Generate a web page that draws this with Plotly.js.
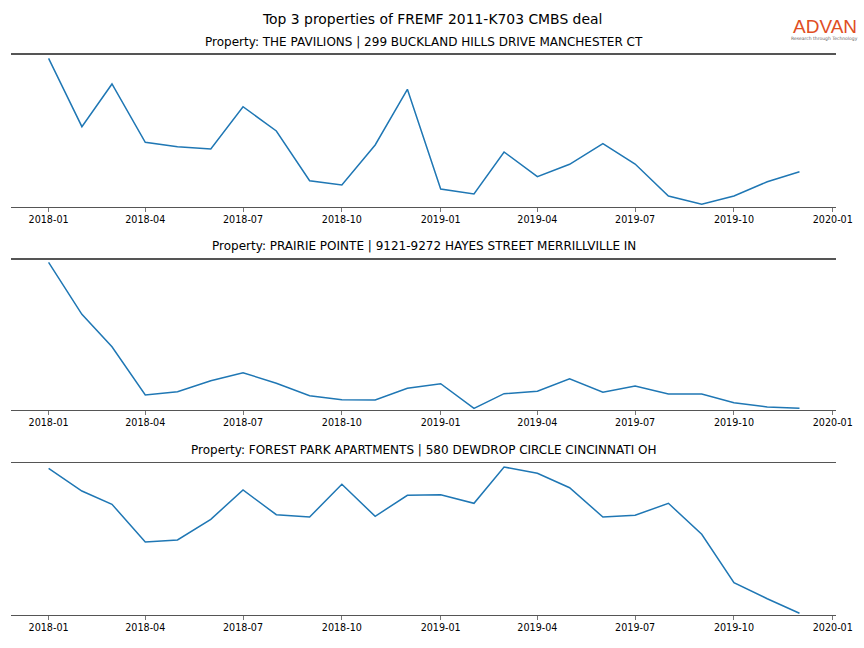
<!DOCTYPE html>
<html>
<head>
<meta charset="utf-8">
<script src="https://cdn.plot.ly/plotly-3.0.1.min.js"></script>
<style>html,body{margin:0;padding:0;background:#fff;}#chart{width:864px;height:648px;}</style>
</head>
<body>
<div id="chart"></div>
<script>
const months = ['2018-01-01','2018-02-01','2018-03-01','2018-04-01','2018-05-01','2018-06-01',
  '2018-07-01','2018-08-01','2018-09-01','2018-10-01','2018-11-01','2018-12-01',
  '2019-01-01','2019-02-01','2019-03-01','2019-04-01','2019-05-01','2019-06-01',
  '2019-07-01','2019-08-01','2019-09-01','2019-10-01','2019-11-01','2019-12-01'];

const pavilions = [148.4, 80, 122.7, 64.4, 60, 57.7, 100, 75.7, 26, 21.7, 61.7, 117.4,
  17.7, 12.7, 54.7, 30, 42.4, 63, 42.7, 10.7, 2.4, 10.7, 25, 35];
const prairie = [147.4, 95.4, 63, 14.7, 18, 29, 37, 26.4, 14, 10, 9.7, 21.4,
  26, 1.4, 16, 18.4, 31, 17.4, 23.7, 15.7, 15.7, 7, 2.7, 1.4];
const forest = [146.4, 123.7, 110.4, 72.7, 74.7, 95.4, 124.7, 100, 97.7, 130.4, 98.4, 119.4,
  120, 111.4, 147.7, 141.4, 127, 97.7, 99.4, 111.4, 80.4, 32, 16, 1.4];

const mainTitle = 'Top 3 properties of FREMF 2011-K703 CMBS deal';
const subTitles = [
  'Property: THE PAVILIONS | 299 BUCKLAND HILLS DRIVE MANCHESTER CT',
  'Property: PRAIRIE POINTE | 9121-9272 HAYES STREET MERRILLVILLE IN',
  'Property: FOREST PARK APARTMENTS | 580 DEWDROP CIRCLE CINCINNATI OH'
];
const seriesList = [pavilions, prairie, forest];

const font = 'DejaVu Sans, sans-serif';
const H = 648;
const panels = [
  {top: 54.7, bot: 206.7, ymax: 152, title: 42},
  {top: 259.7, bot: 409.7, ymax: 150, title: 246},
  {top: 463, bot: 614.7, ymax: 151.7, title: 450}
];

const data = seriesList.map((vals, i) => ({
  x: months, y: vals, type: 'scatter', mode: 'lines',
  line: {color: '#1f77b4', width: 1.5},
  xaxis: i === 0 ? 'x' : 'x' + (i + 1),
  yaxis: i === 0 ? 'y' : 'y' + (i + 1),
  hoverinfo: 'x+y'
}));

const layout = {
  width: 864, height: 648,
  margin: {l: 11, r: 28, t: 0, b: 0},
  paper_bgcolor: '#fff', plot_bgcolor: '#fff',
  showlegend: false,
  font: {family: font, color: '#000'},
  annotations: [
    {text: mainTitle, xref: 'paper', yref: 'paper', x: (432 - 11) / 825, y: 1 - 19 / H,
     xanchor: 'center', yanchor: 'middle', showarrow: false, font: {size: 13.9, family: font, color: '#000'}},
    {text: 'ADVAN', xref: 'paper', yref: 'paper', x: (824.5 - 11) / 825, y: 1 - 27 / H,
     xanchor: 'center', yanchor: 'middle', showarrow: false,
     font: {size: 19, family: 'Liberation Sans, Arial, sans-serif', color: '#e04e24'}},
    {text: 'Research through Technology', xref: 'paper', yref: 'paper', x: (824 - 11) / 825, y: 1 - 38 / H,
     xanchor: 'center', yanchor: 'middle', showarrow: false,
     font: {size: 4.5, family: font, color: '#666'}}
  ]
};

panels.forEach((p, i) => {
  const sfx = i === 0 ? '' : String(i + 1);
  layout['xaxis' + sfx] = {
    domain: [0, 1], anchor: 'y' + sfx, type: 'date',
    range: ['2017-11-27', '2020-01-04'],
    tick0: '2018-01-01', dtick: 'M3', tickformat: '%Y-%m',
    ticks: 'outside', ticklen: 3.5, tickwidth: 0.8, tickcolor: '#555',
    showline: true, mirror: true, linecolor: '#555', linewidth: 1.5,
    showgrid: false, zeroline: false,
    tickfont: {size: 9.6, family: font, color: '#000'}
  };
  layout['yaxis' + sfx] = {
    domain: [1 - p.bot / H, 1 - p.top / H], anchor: 'x' + sfx,
    range: [0, p.ymax], showticklabels: false, ticks: '',
    showline: false, showgrid: false, zeroline: false
  };
  layout.annotations.push({
    text: subTitles[i], xref: 'paper', yref: 'paper', x: 0.5, y: 1 - p.title / H,
    xanchor: 'center', yanchor: 'middle', showarrow: false,
    font: {size: 12, family: font, color: '#000'}
  });
});

Plotly.newPlot('chart', data, layout, {displayModeBar: false, staticPlot: true});
</script>
</body>
</html>
